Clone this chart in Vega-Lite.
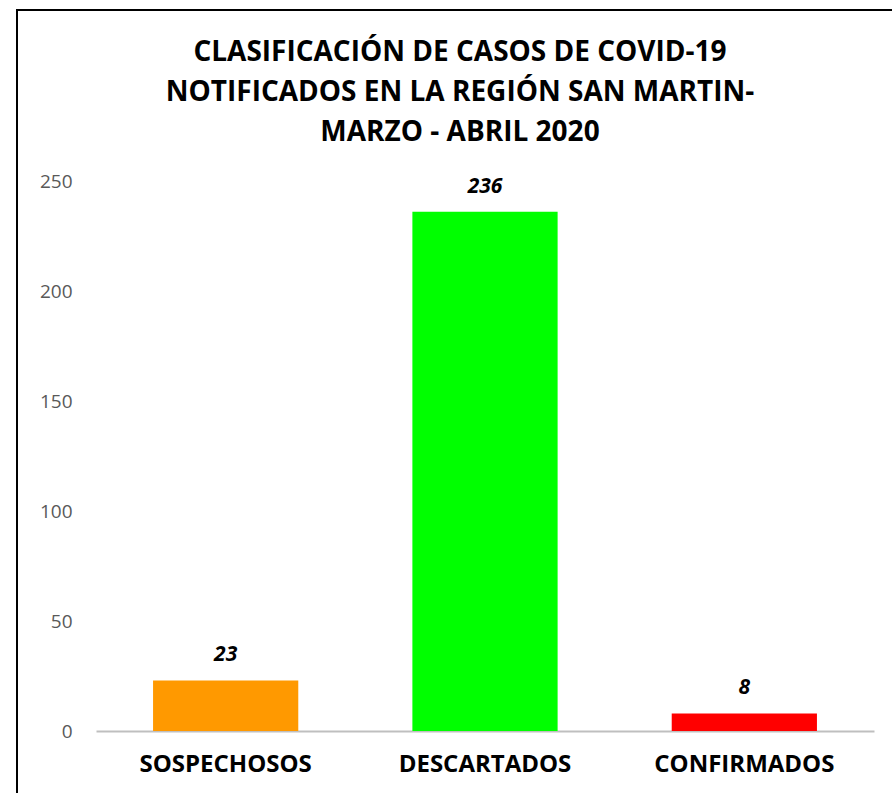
{
  "$schema": "https://vega.github.io/schema/vega-lite/v6.json",
  "autosize": "none",
  "width": 886,
  "height": 800,
  "padding": {"left": 17, "top": 10, "right": 0, "bottom": 0},
  "background": "white",
  "config": {
    "view": {"stroke": "black", "strokeWidth": 2},
    "font": "Open Sans"
  },
  "title": {
    "text": ["CLASIFICACIÓN DE CASOS DE COVID-19", "NOTIFICADOS EN LA REGIÓN SAN MARTIN-", "MARZO - ABRIL 2020"],
    "font": "Open Sans",
    "fontSize": 28,
    "fontWeight": "bold",
    "color": "black",
    "lineHeight": 40,
    "anchor": "middle",
    "baseline": "bottom",
    "offset": -165
  },
  "data": {
    "values": [
      {"categoria": "SOSPECHOSOS", "casos": 23},
      {"categoria": "DESCARTADOS", "casos": 236},
      {"categoria": "CONFIRMADOS", "casos": 8}
    ]
  },
  "encoding": {
    "x": {
      "field": "categoria",
      "type": "nominal",
      "sort": null,
      "scale": {"range": [79, 857], "paddingInner": 0.44, "paddingOuter": 0.22},
      "axis": {
        "title": null,
        "orient": "bottom",
        "offset": -79,
        "labelAngle": 0,
        "labelFont": "Open Sans",
        "labelFontSize": 24,
        "labelFontWeight": "bold",
        "labelColor": "black",
        "labelPadding": 21,
        "labelLimit": 0,
        "labelOverlap": false,
        "ticks": false,
        "domainColor": "#BFBFBF",
        "domainWidth": 2
      }
    },
    "y": {
      "field": "casos",
      "type": "quantitative",
      "scale": {"domain": [0, 250], "range": [721, 171], "nice": false},
      "axis": {
        "title": null,
        "orient": "left",
        "offset": -57,
        "values": [0, 50, 100, 150, 200, 250],
        "grid": false,
        "domain": false,
        "ticks": false,
        "labelFont": "Open Sans",
        "labelFontSize": 19,
        "labelColor": "#595959",
        "labelPadding": 2
      }
    }
  },
  "layer": [
    {
      "mark": {"type": "bar"},
      "encoding": {
        "color": {
          "field": "categoria",
          "type": "nominal",
          "scale": {"domain": ["SOSPECHOSOS", "DESCARTADOS", "CONFIRMADOS"], "range": ["#FF9900", "#00FF00", "#FF0000"]},
          "legend": null
        }
      }
    },
    {
      "mark": {"type": "text", "baseline": "bottom", "dy": -15, "font": "Open Sans", "fontSize": 21, "fontWeight": "bold", "fontStyle": "italic", "color": "black"},
      "encoding": {"text": {"field": "casos", "type": "quantitative"}}
    }
  ]
}
